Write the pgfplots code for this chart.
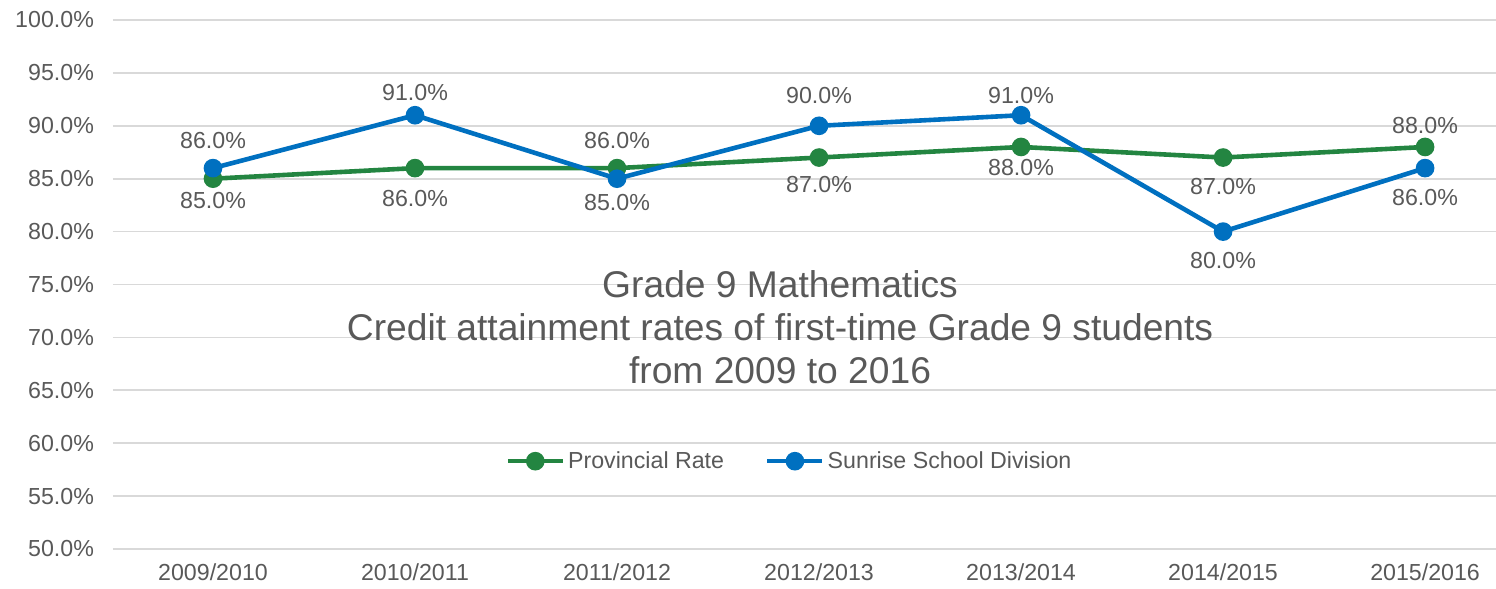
\documentclass[border=0pt]{standalone}
\usepackage{pgfplots}
\pgfplotsset{compat=1.18}
\usepackage{pgfplotstable}
\usepackage{fontspec}
\setmainfont{Liberation Sans}
\definecolor{txt}{HTML}{595959}
\definecolor{grd}{HTML}{D9D9D9}
\definecolor{cgreen}{HTML}{238541}
\definecolor{cblue}{HTML}{0070C0}
\pgfplotstableread{
x y dy
0 85 -11
1 86 -15
2 86 14
3 87 -13.5
4 88 -10.5
5 87 -14.5
6 88 10.5
}\prov
\pgfplotstableread{
x y dy
0 86 14
1 91 11.5
2 85 -12
3 90 15
4 91 10
5 80 -14.5
6 86 -14.5
}\sun
\begin{document}
\begin{tikzpicture}
\useasboundingbox (-56.5pt,-20pt) rectangle (691.5pt,274.5pt);
\begin{axis}[
  scale only axis,
  width=691.5pt, height=264.5pt,
  xmin=-0.495, xmax=6.351,
  ymin=50, ymax=100,
  ytick={50,55,...,100},
  xtick={0,...,6},
  xticklabels={2009/2010,2010/2011,2011/2012,2012/2013,2013/2014,2014/2015,2015/2016},
  yticklabel={\pgfmathprintnumber[fixed,fixed zerofill,precision=1]{\tick}\%},
  /pgf/number format/assume math mode=true,
  axis line style={draw=none},
  major tick length=0pt,
  ymajorgrids,
  grid style={grd, line width=0.8pt},
  tick label style={font=\fontsize{11.6}{13}\selectfont, text=txt},
  yticklabel style={xshift=-6pt},
  xticklabel style={yshift=-4pt},
  clip=false,
  legend style={at={(rel axis cs:0.4895,0.166)}, anchor=center, draw=none, fill=none,
    font=\fontsize{11.6}{13}\selectfont, text=txt, inner sep=0pt,
    nodes={inner xsep=1.5pt},
    /tikz/every even column/.append style={column sep=19pt}},
  legend columns=2,
  legend cell align=left,
  legend image code/.code={\draw[mark repeat=2,mark phase=2] plot coordinates {(0pt,0pt)(13.75pt,0pt)(27.5pt,0pt)};},
  nodes near coords={\pgfmathprintnumber[fixed,fixed zerofill,precision=1]{\pgfplotspointmeta}\%},
  visualization depends on={\thisrow{dy} \as \dy},
  every node near coord/.append style={anchor=center, yshift=\dy pt, font=\fontsize{11.6}{13}\selectfont, text=txt},
]
\addplot[cgreen, line width=2.3pt, mark=*, mark size=3.5pt, mark options={solid}] table[x=x,y=y] {\prov};
\addlegendentry{Provincial Rate}
\addplot[cblue, line width=2.3pt, mark=*, mark size=3.5pt, mark options={solid}] table[x=x,y=y] {\sun};
\addlegendentry{Sunrise School Division}
\node[align=center, text=txt, font=\fontsize{18.6}{21.5}\selectfont] at (axis cs:2.807,70.98) {Grade 9 Mathematics\\Credit attainment rates of first-time Grade 9 students\\from 2009 to 2016};
\end{axis}
\end{tikzpicture}
\end{document}
